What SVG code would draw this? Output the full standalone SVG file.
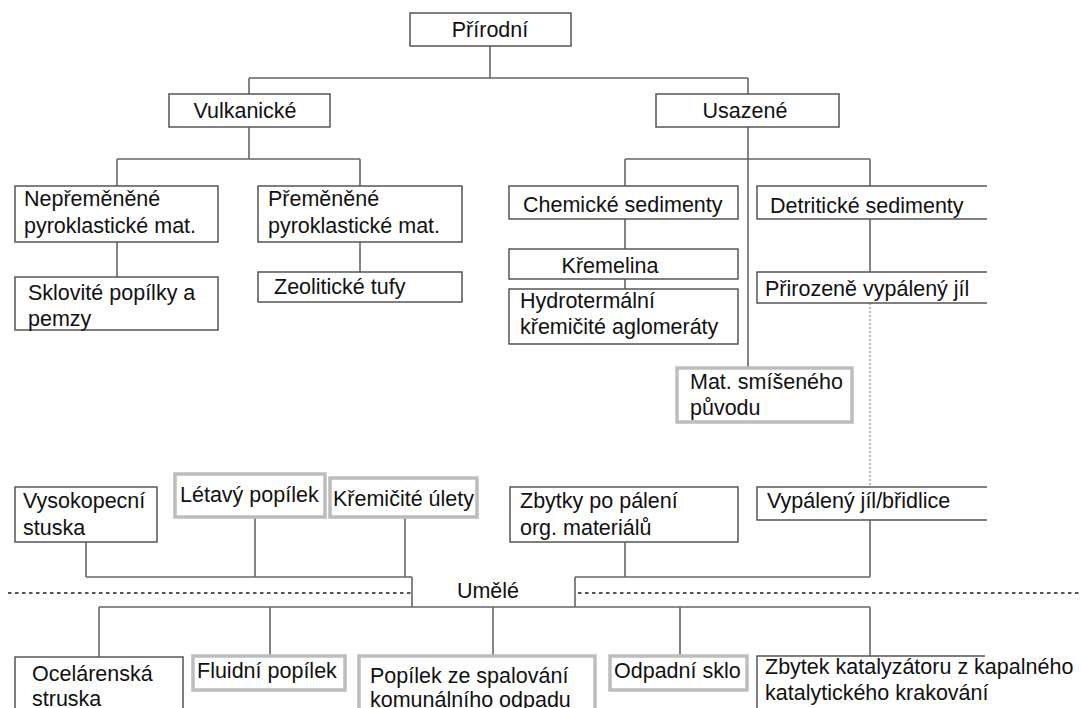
<svg xmlns="http://www.w3.org/2000/svg" width="1081" height="708" viewBox="0 0 1081 708">
<style>
  text { font-family: "Liberation Sans", Arial, sans-serif; font-size: 21.5px; fill: #111; }
  .b { fill: #fff; stroke: #555; stroke-width: 1.5; }
  .g { fill: #fff; stroke: #bdbdbd; stroke-width: 3.5; }
  .c { fill: none; stroke: #666; stroke-width: 1.6; }
  .d { fill: none; stroke: #555; stroke-width: 2; stroke-dasharray: 3.5 3.5; }
  .dv { fill: none; stroke: #888; stroke-width: 1.2; stroke-dasharray: 2 2; }
  .mid { text-anchor: middle; }
</style>
<rect width="1081" height="708" fill="#fff"/>
<g id="connectors">
  <path class="c" d="M490 46 V78 M249 78 H748 M249 78 V94 M748 78 V94"/>
  <path class="c" d="M249 127 V159 M117 159 H360 M117 159 V186 M360 159 V186"/>
  <path class="c" d="M117 242 V277 M360 242 V272"/>
  <path class="c" d="M748 127 V368 M625 159 H870 M625 159 V186 M870 159 V186"/>
  <path class="c" d="M625 219 V249 M625 279 V289 M870 219 V272"/>
  <path class="dv" d="M870 303 V487"/>
  <path class="c" d="M86 542 V577 M255 517 V577 M405 517 V577 M86 577 H412"/>
  <path class="c" d="M625 542 V577 M870 520 V577 M575 577 H870"/>
  <path class="d" d="M8 593 H412 M578 593 H1081"/>
  <path class="c" d="M99 607 H870 M99 607 V657 M270 607 V656 M493 607 V656 M680 607 V656 M870 607 V656"/>
</g>
<g id="n-prirodni"><rect class="b" x="410" y="13" width="161" height="33"/><text x="490" y="37" class="mid">Přírodní</text></g>
<g id="n-vulkanicke"><rect class="b" x="169" y="94" width="161" height="33"/><text x="245" y="118" class="mid">Vulkanické</text></g>
<g id="n-usazene"><rect class="b" x="656" y="94" width="183" height="33"/><text x="745" y="118" class="mid">Usazené</text></g>
<g id="n-nepremenene"><rect class="b" x="15" y="186" width="203" height="56"/><text x="24" y="206">Nepřeměněné</text><text x="24" y="233">pyroklastické mat.</text></g>
<g id="n-premenene"><rect class="b" x="258" y="186" width="204" height="56"/><text x="268" y="206">Přeměněné</text><text x="268" y="233">pyroklastické mat.</text></g>
<g id="n-sklovite"><rect class="b" x="15" y="277" width="203" height="53"/><text x="28" y="300">Sklovité popílky a</text><text x="28" y="326">pemzy</text></g>
<g id="n-zeoliticke"><rect class="b" x="258" y="272" width="204" height="30"/><text x="274" y="294">Zeolitické tufy</text></g>
<g id="n-chemicke"><rect class="b" x="509" y="186" width="229" height="33"/><text x="523" y="212">Chemické sedimenty</text></g>
<g id="n-kremelina"><rect class="b" x="509" y="249" width="229" height="30"/><text x="610" y="273" class="mid">Křemelina</text></g>
<g id="n-hydrotermalni"><rect class="b" x="509" y="289" width="229" height="55"/><text x="520" y="308">Hydrotermální</text><text x="520" y="334">křemičité aglomeráty</text></g>
<g id="n-detriticke"><path class="b" d="M987 186 H757 V219 H987"/><text x="770" y="213">Detritické sedimenty</text></g>
<g id="n-prirozene"><path class="b" d="M987 272 H757 V303 H987"/><text x="765" y="296">Přirozeně vypálený jíl</text></g>
<g id="n-smiseneho"><rect class="g" x="677" y="368" width="175" height="54"/><text x="690" y="389">Mat. smíšeného</text><text x="690" y="415">původu</text></g>
<g id="n-vysokopecni"><rect class="b" x="15" y="487" width="142" height="55"/><text x="23" y="508">Vysokopecní</text><text x="23" y="535">stuska</text></g>
<g id="n-letavy"><rect class="g" x="175" y="474" width="150" height="43"/><text x="180" y="502">Létavý popílek</text></g>
<g id="n-kremicite"><rect class="g" x="330" y="478" width="147" height="39"/><text x="333" y="506">Křemičité úlety</text></g>
<g id="n-zbytky"><rect class="b" x="510" y="487" width="228" height="55"/><text x="520" y="508">Zbytky po pálení</text><text x="520" y="535">org. materiálů</text></g>
<g id="n-vypaleny"><path class="b" d="M987 487 H757 V520 H987"/><text x="767" y="508">Vypálený jíl/břidlice</text></g>
<g id="n-umele"><path class="c" d="M412 577 V607 M575 577 V607"/><text x="488" y="598" class="mid">Umělé</text></g>
<g id="n-ocelarenska"><path class="b" d="M15 710 V657 H183 V710"/><text x="32" y="681">Ocelárenská</text><text x="32" y="706">struska</text></g>
<g id="n-fluidni"><rect class="g" x="193" y="656" width="152" height="34"/><text x="197" y="678">Fluidní popílek</text></g>
<g id="n-popilek"><path class="g" d="M359 710 V656 H595 V710"/><text x="370" y="683">Popílek ze spalování</text><text x="370" y="707">komunálního odpadu</text></g>
<g id="n-odpadni"><rect class="g" x="610" y="656" width="137" height="34"/><text x="614" y="678">Odpadní sklo</text></g>
<g id="n-zbytek"><path class="b" d="M757 710 V656 H985"/><text x="765" y="674">Zbytek katalyzátoru z kapalného</text><text x="765" y="700">katalytického krakování</text></g>
</svg>
